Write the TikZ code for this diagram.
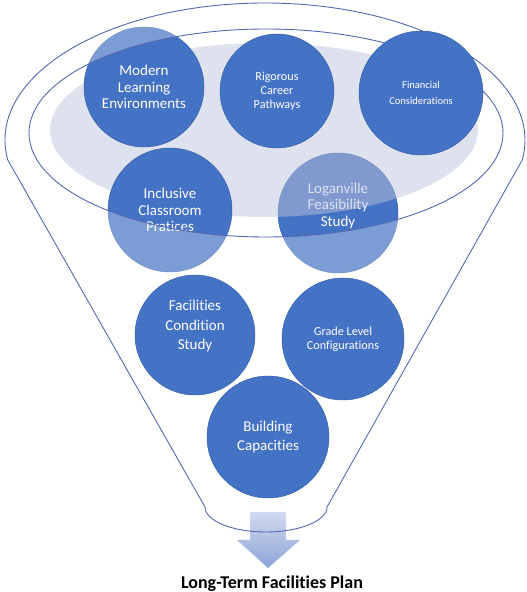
\documentclass[tikz,border=0pt]{standalone}
\usepackage{fontspec}
\setmainfont{Carlito}[Ligatures=NoCommon]
\usetikzlibrary{positioning}
\definecolor{itemblue}{RGB}{68,114,196}
\definecolor{rimblue}{RGB}{84,104,178}
\definecolor{lavender}{RGB}{189,195,221}
\definecolor{arrowtop}{RGB}{210,218,240}
\definecolor{arrowbot}{RGB}{140,164,214}

\begin{document}
\begin{tikzpicture}[
  x=1pt, y=1pt,
  item/.style={circle, fill=itemblue, draw=itemblue!85!black, line width=0.5pt,
    text=white, align=center, inner sep=0pt, font=\fontsize{15}{16.5}\selectfont},
  bigitem/.style={item, font=\fontsize{15}{19.5}\selectfont},
  smallitem/.style={item, font=\fontsize{12.2}{14}\selectfont},
  tinyitem/.style={item, font=\fontsize{10.5}{16}\selectfont},
  rim/.style={draw=rimblue, line width=0.9pt},
  funnel/.style={insert path={(7.8,432) arc[start angle=188.4, end angle=-8.4, x radius=260, y radius=137]
    -- (327,85) arc[start angle=0, end angle=-180, x radius=61, y radius=25] -- cycle}}
]
\useasboundingbox (0,0) rectangle (527,592);

% circle that sits under the grey disc
\node[item, minimum size=120pt] (logan) at (338,379) {Loganville\\Feasibility\\Study\\\mbox{}};
\fill[lavender, opacity=0.5] (264,462) ellipse[x radius=214, y radius=87];

% circles in the mouth of the funnel
\node[item, minimum size=120pt] (modern) at (144,505) {Modern\\Learning\\Environments};
\node[smallitem, minimum size=114pt] (career) at (277,501) {Rigorous\\Career\\Pathways};
\node[item, minimum size=124pt] (inclusive) at (170,382) {Inclusive\\Classroom\\Pratices};

% funnel body, lighter outside the inner rim
\fill[white, opacity=0.3, even odd rule] [funnel] (266,459) ellipse[x radius=237, y radius=104];
\shade[top color=arrowtop, bottom color=arrowbot] (250,80) -- (286,80) -- (286,52) -- (300,52)
  -- (268,24) -- (237,52) -- (250,52) -- cycle;
\draw[rim] [funnel];
\draw[rim] (266,459) ellipse[x radius=237, y radius=104];

% circles on top of the funnel
\node[tinyitem, minimum size=124pt] (finance) at (421,499) {Financial\\Considerations};
\node[bigitem, minimum size=120pt] (condition) at (195,257) {Facilities\\Condition\\Study\\\mbox{}};
\node[smallitem, minimum size=122pt] (grades) at (343,253) {Grade Level\\Configurations};
\node[bigitem, minimum size=122pt] (capacity) at (268,155) {Building\\Capacities};

\node[font=\bfseries\fontsize{18}{20}\selectfont, anchor=base] (plan) at (272,4) {Long-Term Facilities Plan};
\end{tikzpicture}
\end{document}
